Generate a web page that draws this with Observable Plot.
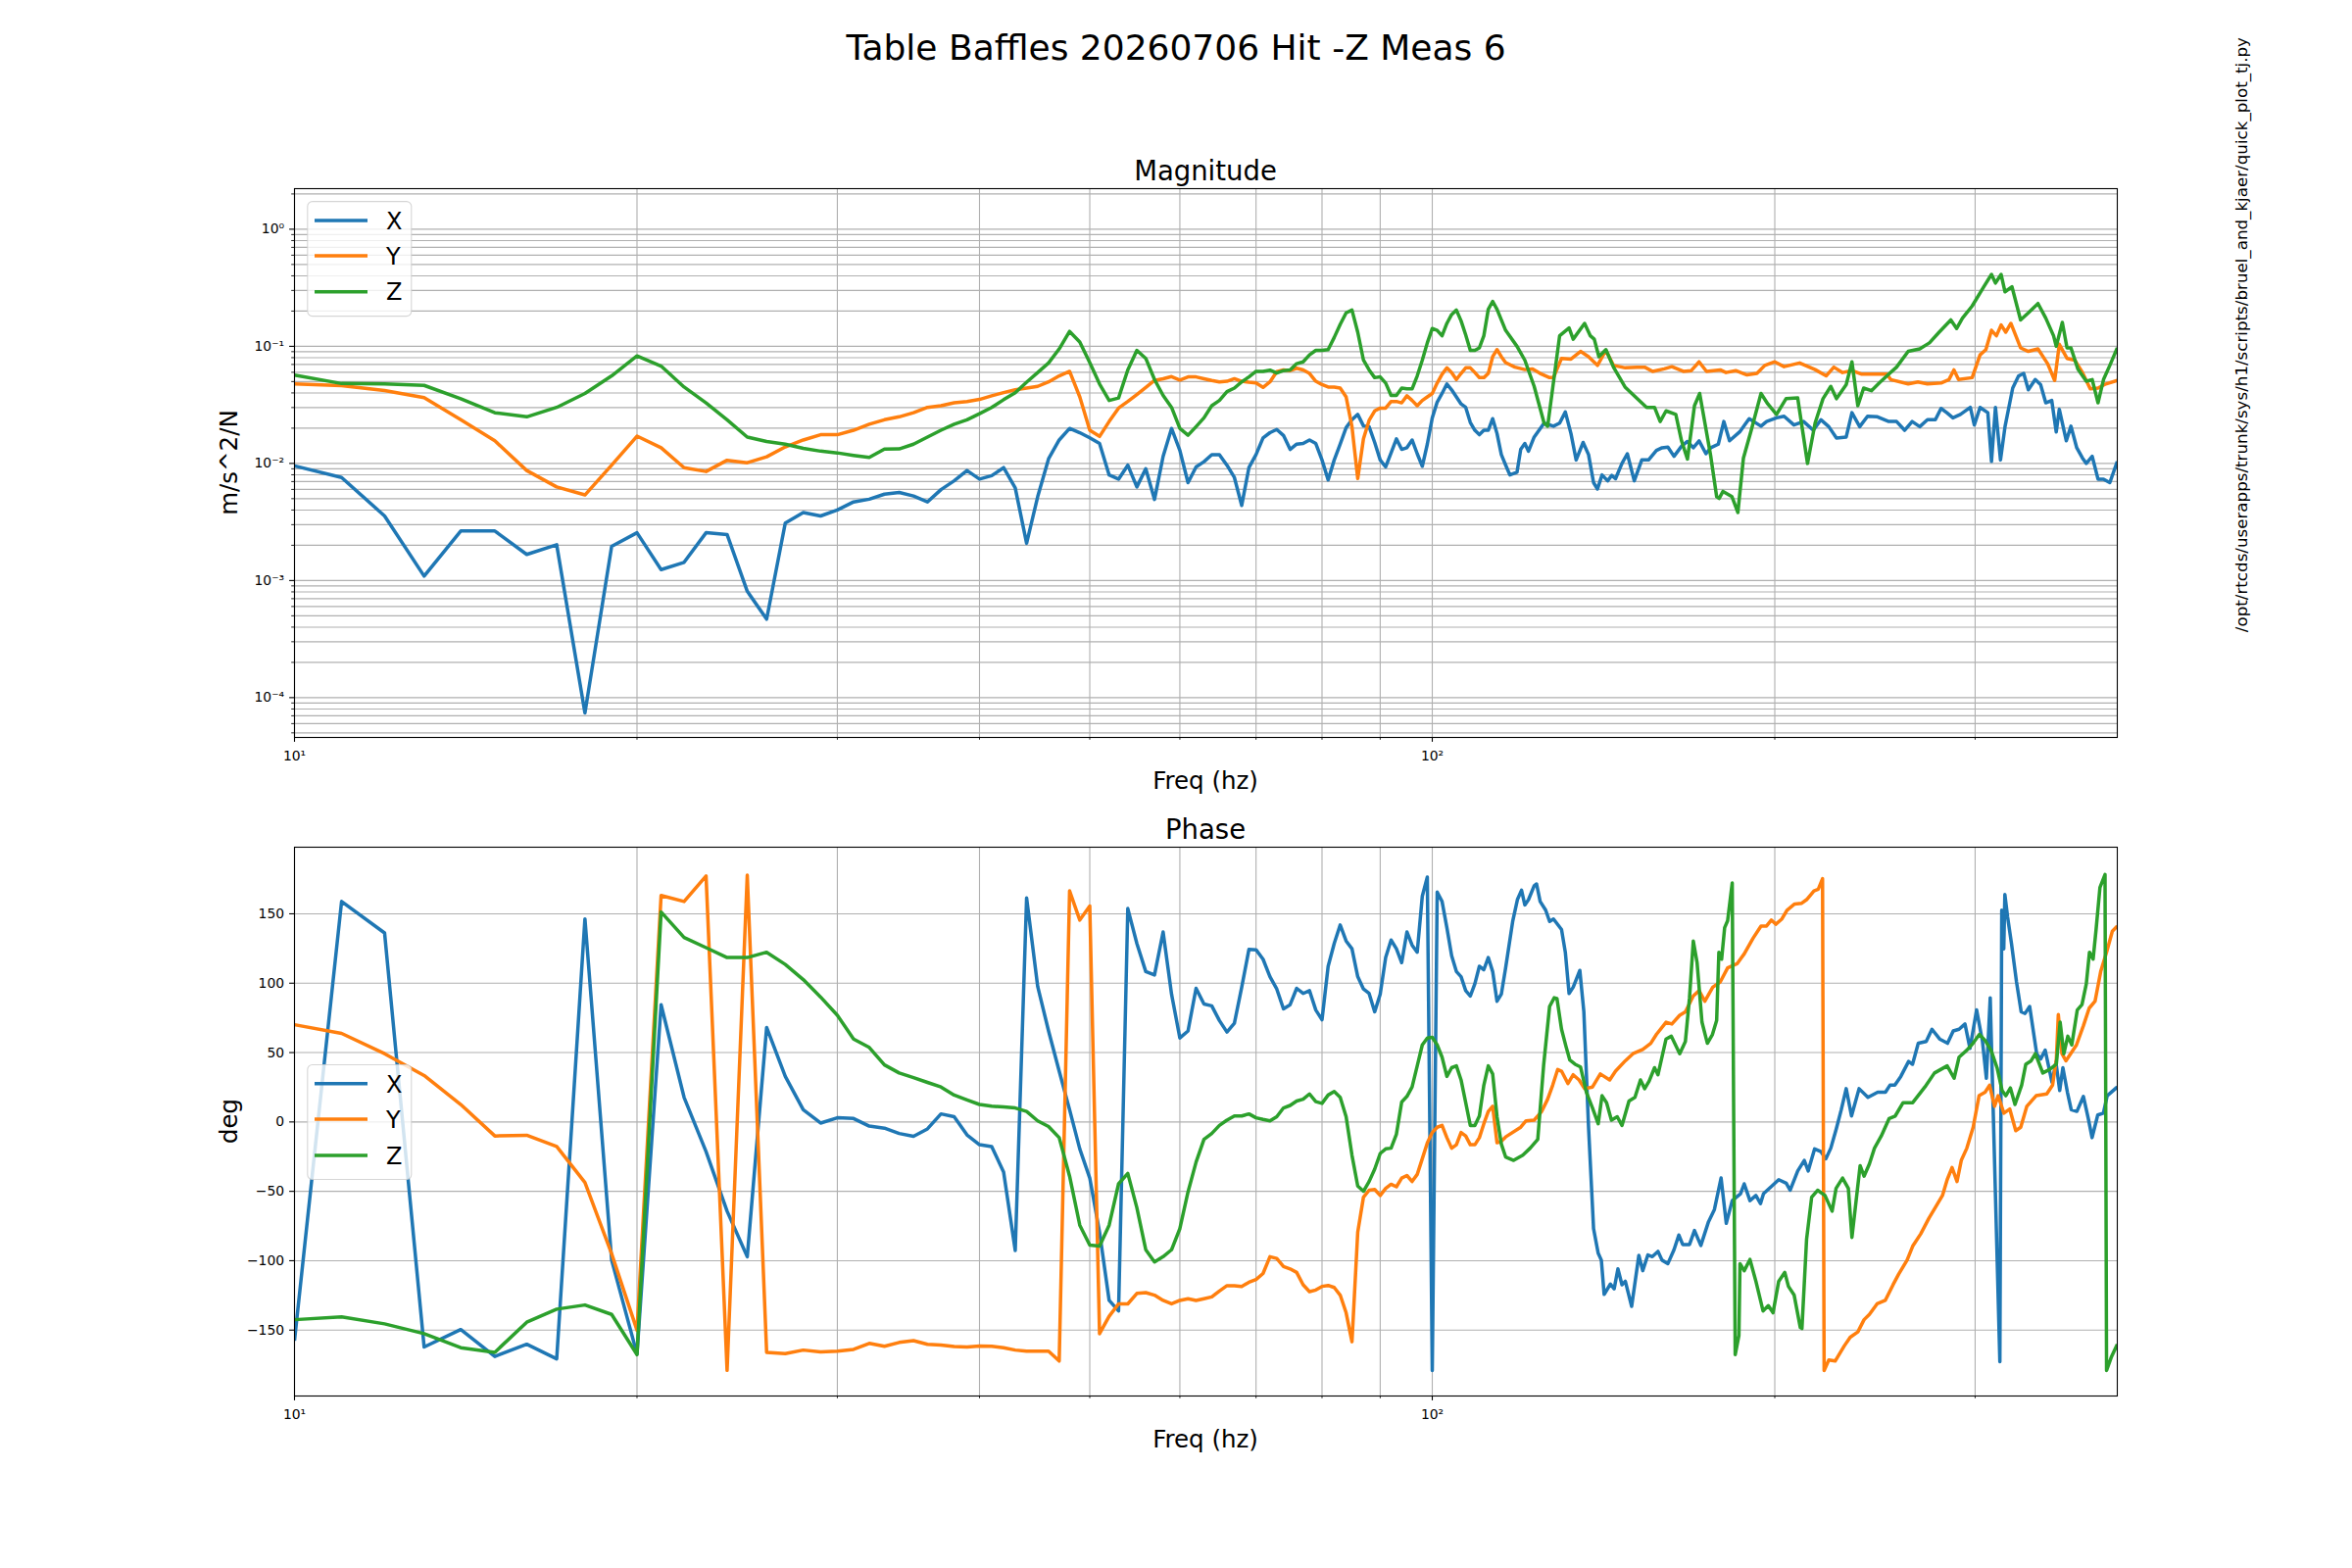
<!DOCTYPE html>
<html><head><meta charset="utf-8">
<script src="https://cdn.jsdelivr.net/npm/d3@7"></script>
<script src="https://cdn.jsdelivr.net/npm/@observablehq/plot@0.6"></script>
<style>
html,body{margin:0;padding:0;background:#fff;}
#fig{position:relative;width:2400px;height:1600px;background:#fff;overflow:hidden;font-family:"DejaVu Sans",sans-serif;color:#000;}
</style></head><body><div id="fig"></div>
<script>
// ---------- labels ----------
const figTitle = "Table Baffles 20260706 Hit -Z Meas 6";
const magTitle = "Magnitude";
const phaseTitle = "Phase";
const xLabel = "Freq (hz)";
const magYLabel = "m/s^2/N";
const phaseYLabel = "deg";
const sideText = "/opt/rtcds/userapps/trunk/sys/h1/scripts/bruel_and_kjaer/quick_plot_tj.py";
const seriesNames = ["X", "Y", "Z"];
const seriesColors = ["#1f77b4", "#ff7f0e", "#2ca02c"];

// ---------- ticks ----------
const freqMajor = [10, 100];
const freqTickLabels = ["10\u00b9", "10\u00b2"];
const freqMinor = [20, 30, 40, 50, 60, 70, 80, 90, 200, 300];
const magMajor = [1e-4, 1e-3, 1e-2, 1e-1, 1];
const magTickLabels = ["10\u207b\u2074", "10\u207b\u00b3", "10\u207b\u00b2", "10\u207b\u00b9", "10\u2070"];
const phaseTicks = [-150, -100, -50, 0, 50, 100, 150];
const phaseTickLabels = ["\u2212150", "\u2212100", "\u221250", "0", "50", "100", "150"];

// ---------- data: magnitude [freq Hz, m/s^2/N] ----------
const magX = [[10,0.00953],[11,0.00759],[12,0.00356],[13,0.00109],[14,0.00265],[15,0.00265],[16,0.00167],[17,0.00202],[18,0.000074],[19,0.00196],[20,0.00256],[21,0.00124],[22,0.00143],[23,0.00256],[24,0.00247],[25,0.00081],[26,0.000468],[27,0.0031],[28,0.00381],[29,0.00356],[30,0.0040],[31,0.00469],[32,0.00495],[33,0.00546],[34,0.00565],[35,0.00527],[36,0.00469],[37,0.00597],[38,0.0071],[39,0.0087],[40,0.00734],[41,0.00786],[42,0.0092],[43,0.00618],[44,0.00208],[45,0.0052],[46,0.01094],[47,0.01585],[48,0.0199],[49,0.0183],[50,0.01653],[51,0.0148],[52,0.00797],[53,0.00734],[54,0.00966],[55,0.0063],[56,0.00902],[57,0.00492],[58,0.01148],[59,0.0199],[60,0.0129],[61,0.00685],[62,0.00933],[63,0.01035],[64,0.01188],[65,0.01188],[66,0.00966],[67,0.00759],[68,0.00438],[69,0.0092],[70,0.01188],[71,0.01653],[72,0.0183],[73,0.0195],[74,0.01734],[75,0.01318],[76,0.0146],[77,0.0148],[78,0.01585],[79,0.0148],[80,0.0107],[81,0.00724],[82,0.0107],[83,0.0146],[84,0.0202],[85,0.0236],[86,0.0262],[87,0.0209],[88,0.0206],[89,0.0151],[90,0.0107],[91,0.00933],[92,0.0123],[93,0.0162],[94,0.01318],[95,0.01363],[96,0.01585],[97,0.0121],[98,0.00946],[99,0.0146],[100,0.0245],[101,0.0334],[102,0.0396],[103,0.0477],[104,0.0425],[105,0.037],[106,0.0322],[107,0.0301],[108,0.0224],[109,0.0192],[110,0.0176],[111,0.0192],[112,0.0192],[113,0.0241],[114,0.0180],[115,0.0119],[116,0.0097],[117,0.00797],[118.7,0.0084],[119.6,0.0132],[120.6,0.0148],[121.5,0.0127],[122.9,0.0168],[125.4,0.0221],[127.8,0.0208],[129.4,0.0221],[130.9,0.0275],[132.4,0.018],[133.8,0.0107],[135.7,0.0151],[137.2,0.0119],[138.6,0.00685],[139.7,0.00605],[141,0.00797],[142.6,0.0071],[143.8,0.0079],[144.9,0.0074],[146.8,0.0100],[148.4,0.0121],[150.5,0.0071],[152.8,0.0107],[154.9,0.0107],[157.4,0.0129],[159.2,0.0136],[161.1,0.0138],[163.1,0.0115],[165.6,0.014],[167.6,0.0154],[169.6,0.0136],[171.6,0.0156],[174,0.0121],[175.7,0.0136],[178.4,0.0146],[180.4,0.0228],[182.5,0.0156],[186.3,0.0186],[189.9,0.0241],[194.5,0.0208],[196.7,0.0228],[200.7,0.0245],[203.8,0.0253],[207.9,0.0213],[212,0.0228],[216.2,0.0192],[219.6,0.0236],[223.1,0.0206],[226.6,0.0165],[231.1,0.0168],[233.8,0.0271],[237.5,0.0206],[241.3,0.0253],[246.2,0.0250],[251.9,0.0228],[255.9,0.0228],[260.1,0.0192],[264.1,0.0228],[268.2,0.0206],[272.4,0.0236],[276.8,0.0236],[280,0.0295],[283.3,0.0271],[286.8,0.0245],[291.2,0.0262],[297.1,0.0301],[299.5,0.0213],[303,0.0301],[307.8,0.0271],[310.1,0.0104],[312.6,0.0301],[315.8,0.0107],[318.7,0.0206],[323.7,0.044],[327.6,0.0559],[331,0.0587],[334.1,0.0425],[338.8,0.052],[342.5,0.0471],[346.1,0.0329],[350.3,0.0345],[353.5,0.0186],[355.7,0.029],[360.8,0.0156],[364.2,0.0208],[368.5,0.0136],[372.8,0.0111],[375.7,0.0100],[380.2,0.0115],[384.7,0.00734],[389,0.00734],[394,0.00685],[400,0.0104]];

const magY = [[10,0.0477],[11,0.0461],[12,0.0419],[13,0.0365],[14,0.0236],[15,0.0156],[16,0.0087],[17,0.0063],[18,0.00538],[19,0.00966],[20,0.0171],[21,0.0136],[22,0.0092],[23,0.00853],[24,0.01064],[25,0.01014],[26,0.0114],[27,0.01383],[28,0.01585],[29,0.01758],[30,0.01758],[31,0.0192],[32,0.0216],[33,0.0236],[34,0.0250],[35,0.0271],[36,0.0301],[37,0.0311],[38,0.0329],[39,0.0338],[40,0.0352],[41,0.0378],[42,0.0402],[43,0.0425],[44,0.0440],[45,0.0455],[46,0.0497],[47,0.0559],[48,0.0611],[49,0.037],[50,0.0192],[51,0.0170],[52,0.0228],[53,0.0297],[54,0.0338],[55,0.0388],[56,0.0446],[57,0.0511],[58,0.0529],[59,0.0551],[60,0.0515],[61,0.0548],[62,0.0548],[63,0.0529],[64,0.0511],[65,0.0497],[66,0.0503],[67,0.0529],[68,0.0503],[69,0.0493],[70,0.0486],[71,0.0446],[72,0.0497],[73,0.0607],[74,0.0629],[75,0.0620],[76,0.0650],[77,0.0629],[78,0.0587],[79,0.0503],[80,0.0471],[81,0.0449],[82,0.0449],[83,0.044],[84,0.037],[85,0.0206],[86,0.00743],[87,0.0162],[88,0.0233],[89,0.0281],[90,0.0297],[91,0.0297],[92,0.0338],[93,0.0338],[94,0.0329],[95,0.0378],[96,0.0345],[97,0.0311],[98,0.0345],[99,0.037],[100,0.0396],[101,0.0486],[102,0.0578],[103,0.0655],[104,0.0597],[105,0.0521],[106,0.0587],[107,0.0655],[108,0.0655],[109,0.0597],[110,0.054],[111,0.054],[112,0.0587],[113,0.0816],[114,0.0937],[115,0.0816],[116,0.0726],[118.2,0.0664],[120.6,0.0633],[122.5,0.0642],[124.4,0.0587],[126.8,0.054],[127.8,0.054],[129.9,0.0789],[132.4,0.0778],[135,0.0905],[137.2,0.0816],[139.7,0.0687],[142.1,0.0924],[144.3,0.0687],[147.8,0.0655],[151.4,0.0664],[153.7,0.0664],[156.2,0.0611],[159.9,0.0642],[162.4,0.067],[166.2,0.0611],[168.9,0.062],[171.6,0.0737],[174.2,0.0611],[179.1,0.0629],[181.2,0.0597],[184.8,0.062],[189.1,0.057],[192.9,0.0587],[196,0.0687],[200,0.0737],[203.8,0.067],[210.3,0.0721],[217,0.0633],[221.9,0.0559],[225.4,0.0664],[229.4,0.0597],[233.8,0.062],[238.5,0.0578],[244.1,0.0578],[250.9,0.0578],[252.9,0.052],[262,0.0477],[267.2,0.0497],[272.4,0.0477],[280,0.0486],[284.5,0.052],[287.4,0.0629],[290.1,0.052],[298.2,0.054],[303,0.0845],[306.6,0.0937],[310.1,0.137],[313.2,0.123],[316.2,0.152],[319.2,0.132],[322.5,0.157],[328.9,0.097],[334.1,0.0905],[340.7,0.095],[347.4,0.0711],[352.4,0.0511],[355.7,0.104],[361.3,0.0789],[367,0.0762],[372.8,0.0597],[378.7,0.0433],[384.7,0.044],[390.8,0.0477],[400,0.0511]];

const magZ = [[10,0.0567],[11,0.0481],[12,0.0477],[13,0.0464],[14,0.0357],[15,0.0271],[16,0.0250],[17,0.0301],[18,0.0396],[19,0.0559],[20,0.0828],[21,0.0678],[22,0.0449],[23,0.0329],[24,0.0236],[25,0.0168],[26,0.0154],[27,0.0146],[28,0.01344],[29,0.01273],[30,0.0123],[31,0.01172],[32,0.01125],[33,0.01327],[34,0.0133],[35,0.0146],[36,0.0168],[37,0.0192],[38,0.0216],[39,0.0236],[40,0.0266],[41,0.0301],[42,0.035],[43,0.0402],[44,0.0494],[45,0.0597],[46,0.0721],[47,0.095],[48,0.134],[49,0.109],[50,0.0726],[51,0.0477],[52,0.0345],[53,0.0362],[54,0.0629],[55,0.0924],[56,0.0789],[57,0.0521],[58,0.0381],[59,0.0301],[60,0.0199],[61,0.0174],[62,0.0206],[63,0.0245],[64,0.0311],[65,0.0345],[66,0.041],[67,0.044],[68,0.0497],[69,0.0548],[70,0.0611],[71,0.0611],[72,0.0626],[73,0.0591],[74,0.062],[75,0.0629],[76,0.0711],[77,0.0737],[78,0.0845],[79,0.0924],[80,0.0924],[81,0.0937],[82,0.119],[83,0.154],[84,0.193],[85,0.204],[86,0.132],[87,0.0762],[88,0.0629],[89,0.054],[90,0.0548],[91,0.0486],[92,0.0381],[93,0.0381],[94,0.044],[95,0.0433],[96,0.0433],[97,0.0559],[98,0.0762],[99,0.107],[100,0.142],[101,0.137],[102,0.123],[103,0.157],[104,0.187],[105,0.204],[106,0.165],[107,0.125],[108,0.0924],[109,0.0924],[110,0.097],[111,0.123],[112,0.207],[113,0.242],[114,0.207],[115,0.168],[116,0.137],[118.7,0.100],[120.6,0.0762],[122.9,0.0455],[125.4,0.0221],[126.3,0.0208],[129.4,0.123],[131.9,0.1435],[133,0.115],[136.1,0.157],[137.7,0.123],[138.8,0.115],[140.1,0.0816],[142.1,0.0937],[144.3,0.0664],[147.8,0.0446],[151.4,0.0357],[154.3,0.0301],[156.8,0.0301],[158.6,0.0228],[160.5,0.0281],[163.7,0.0262],[165.6,0.0156],[167.6,0.0109],[170,0.0311],[171.8,0.0396],[175.7,0.0115],[177.8,0.0052],[178.7,0.00503],[180.1,0.00577],[183.4,0.0052],[185.6,0.00381],[187.7,0.0111],[190.7,0.0192],[194.5,0.0396],[197.2,0.0322],[200.7,0.0262],[204.6,0.0357],[209.5,0.0362],[213.7,0.010],[217,0.0221],[220.5,0.0357],[224,0.0455],[226.6,0.0357],[231.1,0.0471],[233.8,0.0737],[236.6,0.0311],[239.4,0.044],[243.2,0.0418],[247.1,0.0486],[251.9,0.0578],[255.9,0.0664],[262,0.0905],[268.2,0.095],[273.5,0.107],[278.9,0.132],[285.6,0.168],[289,0.142],[292.4,0.174],[298.2,0.221],[305.3,0.323],[310.1,0.411],[312.6,0.347],[316.2,0.411],[318.7,0.292],[323.2,0.323],[328.9,0.168],[334.1,0.193],[340.7,0.232],[346.1,0.174],[351.6,0.123],[353.5,0.1],[357.9,0.160],[361.3,0.097],[364.2,0.097],[369.3,0.0642],[375.7,0.0504],[380.2,0.052],[384.7,0.0329],[389,0.052],[394,0.0687],[400,0.097]];

// ---------- data: phase [freq Hz, deg] ----------
const phX = [[10,-157.6],[11,158.9],[12,136.2],[13,-162.2],[14,-149.6],[15,-169],[16,-160.2],[17,-170.7],[18,146.3],[19,-99.6],[20,-167.2],[21,84.5],[22,17.7],[23,-21.4],[24,-64.3],[25,-97.1],[26,68.1],[27,32.8],[28,8.8],[29,-0.8],[30,3.0],[31,2.5],[32,-3.0],[33,-4.5],[34,-8.3],[35,-10.3],[36,-5],[37,5.8],[38,3.8],[39,-9.3],[40,-16.4],[41,-17.7],[42,-36.1],[43,-92.6],[44,161.4],[45,97.6],[46,65.6],[47,36.6],[48,8.8],[49,-19.4],[50,-40.4],[51,-79.4],[52,-128.6],[53,-136.2],[54,153.8],[55,128.6],[56,108.4],[57,105.9],[58,136.9],[59,92.1],[60,60.5],[61,65.6],[62,96.3],[63,85],[64,83.7],[65,73.1],[66,64.8],[67,71.1],[68,97.1],[69,124.3],[70,124.1],[71,117.3],[72,104.7],[73,95.8],[74,81.5],[75,84.5],[76,96.3],[77,92.6],[78,94.6],[79,80.7],[80,73.6],[81,112.2],[82,128.6],[83,142],[84,130.4],[85,124.8],[86,104.7],[87,95.8],[88,92.6],[89,79.4],[90,92.1],[91,118.5],[92,131.1],[93,124.8],[94,114.8],[95,136.9],[96,127.4],[97,122.3],[98,162.7],[99,176.5],[100,-179.1],[101,165.7],[102,158.9],[103,140],[104,119.8],[105,108.4],[106,104.7],[107,94.6],[108,90.8],[109,99.6],[110,112.2],[111,109.7],[112,118.5],[113,108.4],[114,87],[115,92.1],[116,111],[117.7,145],[118.8,160.2],[119.8,167],[120.6,156.4],[121.5,160.2],[122.9,170.2],[123.5,171.5],[124.4,158.9],[125.8,152.6],[126.8,144.5],[127.8,146.3],[129.9,138.7],[130.9,122.3],[131.9,92.6],[133,97.1],[134.8,109.2],[135.9,79.4],[137.2,-3.8],[138.6,-76.9],[139.9,-94.6],[140.8,-99.6],[141.6,-124.3],[143.4,-116.8],[144.5,-120.3],[145.6,-105.9],[146.8,-117.3],[147.8,-114.8],[149.7,-132.9],[151.9,-96.1],[153.1,-107.2],[154.7,-95.8],[156.1,-97.1],[157.9,-93.3],[159.2,-99.6],[161.1,-102.1],[163.1,-92.1],[164.7,-81.5],[166,-88.3],[168.3,-88.3],[170,-78.2],[172.2,-89],[174.9,-71.9],[177,-63.1],[179.4,-40.4],[181.3,-73.1],[183.5,-56.7],[186.6,-51.7],[188,-44.6],[190.2,-56.7],[192.5,-53],[194.3,-58.8],[195.5,-51.7],[198.5,-46.7],[201.6,-41.6],[204.7,-44.1],[206.3,-49.2],[209.5,-35.3],[212.3,-27.7],[214,-35.3],[216.8,-19.4],[219.6,-21.4],[221.8,-26.5],[224,-18.9],[226.5,-5],[228.8,8.8],[231.1,24],[233.6,4.3],[237.2,24],[241.5,17.7],[246.3,21.4],[250.2,21.4],[252.5,26.5],[255,26.5],[258.1,32.8],[262.2,43.6],[264.3,41.6],[267.4,56.7],[271.7,58],[274.9,66.8],[279.2,59.8],[283.7,56.7],[287,65.6],[290.4,66.8],[293.9,70.6],[296.9,53],[300.9,80.7],[304.5,58],[306.9,31.5],[309.3,89.5],[315.4,-172.8],[316.6,152.6],[317.9,124.8],[318.6,163.9],[320.4,147.5],[322.9,128.6],[326.2,100.9],[329.3,79.4],[331.9,78.2],[335,83.2],[339.8,49.2],[342.5,45.4],[345.7,51.7],[350.5,28.5],[353.3,42.9],[356,22.7],[358.3,39.1],[361.6,21.4],[364.4,8.8],[368.6,7.6],[373.5,18.4],[377.2,2.5],[380.1,-11.3],[384.5,5],[388.9,6.3],[391.9,18.9],[400,25.2]];

const phY = [[10,70.1],[11,63.8],[12,49.2],[13,33.5],[14,12.6],[15,-10.1],[16,-9.6],[17,-17.7],[18,-43.6],[19,-95],[20,-150.1],[21,163.2],[22,158.9],[23,177.3],[24,-179],[25,177.8],[26,-166],[27,-167],[28,-164.4],[29,-165.7],[30,-165.2],[31,-163.9],[32,-159.6],[33,-161.7],[34,-158.9],[35,-157.6],[36,-160.2],[37,-160.7],[38,-161.9],[39,-162.2],[40,-161.4],[41,-161.7],[42,-162.7],[43,-164.4],[44,-165.2],[45,-165.2],[46,-165.2],[47,-172.3],[48,166.5],[49,145.5],[50,155.6],[51,-152.6],[52,-140],[53,-131.1],[54,-131.1],[55,-123.6],[56,-123],[57,-124.8],[58,-128.6],[59,-131.1],[60,-128.6],[61,-127.4],[62,-128.6],[63,-127.4],[64,-126.1],[65,-121.8],[66,-118],[67,-118],[68,-118.5],[69,-115.5],[70,-113.5],[71,-109.2],[72,-97.1],[73,-98.4],[74,-104.2],[75,-105.9],[76,-108.4],[77,-117.3],[78,-122.3],[79,-121.1],[80,-118.5],[81,-117.8],[82,-119.3],[83,-124.8],[84,-137.5],[85,-158.4],[86,-79.4],[87,-54.2],[88,-49.2],[89,-48.7],[90,-53],[91,-47.9],[92,-44.9],[93,-46.7],[94,-40.4],[95,-38.6],[96,-42.9],[97,-37.8],[98,-26.5],[99,-15.1],[100,-7.6],[101,-3.8],[102,-2.5],[103,-11.3],[104,-18.9],[105,-16.4],[106,-7.6],[107,-10.1],[108,-16.4],[109,-16.4],[110,-11.3],[111,-1.3],[112,7.6],[113,11.3],[114,-15],[115,-13.9],[116,-10.8],[119.6,-3.8],[120.9,0.8],[122.9,1.3],[124.8,7.6],[126.3,16.4],[127.6,26.5],[128.9,37.8],[129.9,36.6],[131.6,27.7],[133,34],[134.6,30.3],[136.1,24],[138.3,25.2],[140.5,34.6],[143.2,30.3],[144.9,36.6],[147.8,44.1],[150.1,49.2],[153.1,52.2],[155.6,56.7],[157.4,63.1],[160.5,71.9],[162.4,70.6],[165,76.9],[166.9,79.4],[169.6,90.8],[171.6,94.6],[173.6,87],[176.4,97.1],[179.1,100.9],[181.8,111],[185.3,114],[188,121.1],[191.4,132.4],[194.5,141.2],[196.7,141.2],[198.6,145.5],[200.4,142.5],[202.9,146.3],[205,152.6],[208.2,157.1],[211.2,157.6],[213.3,160.2],[216.5,166.5],[218.4,167.7],[220.3,175.3],[221,-179.1],[223.1,-171.5],[226,-172.3],[230.2,-161.4],[233,-155.1],[236.6,-151.3],[239.6,-142.5],[242.2,-138.7],[246,-131.1],[250.1,-128.6],[254.1,-117.3],[257,-109.7],[261.4,-99.6],[264.4,-89.5],[268.7,-80.7],[273.2,-69.4],[276.7,-61.8],[280.8,-53],[283.5,-41.6],[286.3,-32.8],[289.2,-42.9],[291.7,-27.7],[295,-18.9],[298.8,-3.8],[302.4,18.9],[306.1,21.4],[308.9,26.5],[312,11.3],[314.3,18.9],[318,6.3],[321.8,9.3],[325.7,-6.3],[329,-3.8],[333.1,11.3],[339.4,18.9],[346.8,20.2],[350.9,26.5],[353.6,45.4],[355,77.4],[357.6,49.2],[360.5,44.1],[364.8,50.4],[368.3,55.5],[373.5,69.4],[377.9,82],[382.4,87],[386.8,108.4],[391.4,122.3],[396,137.5],[400,141.2]];

const phZ = [[10,-142.5],[11,-140.5],[12,-145.5],[13,-152.6],[14,-162.7],[15,-166],[16,-144.3],[17,-134.9],[18,-131.9],[19,-138.7],[20,-167.7],[21,151.3],[22,132.9],[23,125.6],[24,118.5],[25,118.5],[26,122.3],[27,113.5],[28,102.6],[29,90],[30,76.9],[31,59.8],[32,53.7],[33,41.1],[34,35.3],[35,32],[36,28.5],[37,25.2],[38,19.4],[39,15.9],[40,12.6],[41,11.3],[42,10.8],[43,10.1],[44,7.6],[45,0.8],[46,-3.3],[47,-11.3],[48,-39.1],[49,-74.4],[50,-88.8],[51,-89.5],[52,-74.4],[53,-44.6],[54,-37.1],[55,-61.8],[56,-92.1],[57,-100.9],[58,-97.1],[59,-92.1],[60,-76.9],[61,-50.4],[62,-29],[63,-12.6],[64,-8.3],[65,-2.5],[66,1.3],[67,4.3],[68,4.3],[69,5.8],[70,3],[71,1.8],[72,0.8],[73,3.8],[74,10.1],[75,11.9],[76,15.1],[77,16.4],[78,20.2],[79,14.6],[80,13.4],[81,19.4],[82,21.9],[83,17.7],[84,3.8],[85,-24],[86,-46.2],[87,-49.9],[88,-42.9],[89,-34],[90,-22.7],[91,-19.4],[92,-18.9],[93,-8.8],[94,14.4],[95,18.4],[96,25.2],[97,40.4],[98,55.5],[99,60.5],[100,61],[101,55.5],[102,46.7],[103,32.8],[104,39.1],[105,40.4],[106,30.3],[107,13.9],[108,-2.5],[109,-2.5],[110,4.3],[111,26.5],[112,40.4],[113,34.6],[114,3.8],[115,-15.9],[116,-25.2],[117.9,-27.7],[120.1,-24],[121.9,-18.9],[123.8,-12.6],[125.3,41.6],[126.8,83.2],[128,89.5],[128.7,89],[129.9,66.8],[131.1,54.2],[132.1,44.6],[133.5,41.6],[135,39.6],[136.6,21.4],[138.3,10.1],[139.9,-1.3],[141,18.9],[142.3,13.9],[143.7,1.3],[145.4,3.8],[146.8,-2.5],[148.9,15.1],[150.7,17.7],[152.4,30.3],[153.7,24],[155.1,29.5],[156.8,39.1],[157.9,34],[160.5,59.8],[162.2,61.8],[165,49.2],[166.9,58],[168.3,89.5],[169.6,130.4],[170.9,114.8],[172.6,71.9],[174.5,56.7],[176.3,63.1],[177.8,73.1],[178.6,122.3],[179.6,117.3],[180.7,140],[181.8,145],[183.5,172.3],[184.6,-167.7],[186,-153.8],[186.4,-102.1],[188,-107.2],[190.2,-99.1],[192.5,-114.8],[195.3,-136.2],[197.4,-132.4],[199.3,-137.5],[201.6,-114.8],[204.1,-108.4],[205.6,-118.5],[208,-124.8],[210.6,-148.1],[211.3,-148.8],[213.3,-84.5],[215.5,-54.2],[218.1,-49.2],[221.4,-53],[224.6,-64.3],[226.4,-47.9],[229.4,-40.4],[232.1,-47.9],[233.8,-83.2],[237.7,-31.5],[239.6,-39.1],[242.2,-30.3],[244.7,-18.9],[248.1,-10.1],[252.1,2.5],[255.2,4.3],[259.3,13.9],[264.4,13.9],[271,25.2],[276.3,35.3],[283.5,40.4],[287.5,31.5],[290.4,46.7],[295,51.7],[298.7,56.7],[302.6,63.1],[306.1,58.8],[309.8,51.7],[313.6,39.1],[316.8,22.7],[319.2,18.9],[322.2,24.5],[325.2,12.6],[329.6,26.5],[332.4,41.6],[336,44.1],[338.9,49.2],[344,35.3],[348.7,37.8],[353.6,41.6],[356.3,71.9],[359,49.2],[361.9,61.8],[364.8,55.5],[368.9,80.7],[372.4,84.5],[375.7,99.6],[378.1,122.3],[380.9,117.3],[383.2,138.7],[386.2,169],[390.2,178.3],[391.4,-179.1],[395.4,-169],[400,-160.2]];

// ---------- build ----------
const fig = document.getElementById("fig");
const tidy = (list) => list.flatMap((arr, i) => arr.map(([f, v]) => ({f, v, s: seriesNames[i]})));
const magData = tidy([magX, magY, magZ]);
const phaseData = tidy([phX, phY, phZ]);

const LW = 3.5;
const freqDomain = [10, 400];
const magDomain = [Math.pow(10, -4.34), Math.pow(10, 0.3464)];
const phaseDomain = [-197.5, 198];
const magMinor = [];
for (let k = -5; k <= 0; k++) for (let m = 2; m <= 9; m++) {
  const v = m * Math.pow(10, k);
  if (v > magDomain[0] && v < magDomain[1]) magMinor.push(v);
}
const GRID = "#b0b0b0";
const common = {
  width: 2400, height: 638, marginLeft: 300, marginRight: 240, marginTop: 10, marginBottom: 68,
  style: {fontFamily: "DejaVu Sans", fontSize: "13.9px", background: "transparent", overflow: "visible", color: "#000"},
  color: {domain: seriesNames, range: seriesColors}
};
const lineOpts = {x: "f", y: "v", z: "s", stroke: "s", strokeWidth: LW, strokeLinejoin: "round", strokeLinecap: "butt", clip: true};
const xAxes = [
  Plot.axisX(freqMajor, {anchor: "bottom", tickSize: 4.9, tickPadding: 9, strokeWidth: 1.1, label: null,
    tickFormat: (d) => freqTickLabels[freqMajor.indexOf(d)]}),
  Plot.axisX(freqMinor, {anchor: "bottom", tickSize: 2.8, strokeWidth: 0.85, label: null, tickFormat: () => ""})
];

const magPlot = Plot.plot({
  ...common,
  x: {type: "log", domain: freqDomain},
  y: {type: "log", domain: magDomain},
  marks: [
    Plot.ruleX(freqMajor.concat(freqMinor), {stroke: GRID, strokeWidth: 1.1}),
    Plot.ruleY(magMajor.concat(magMinor), {stroke: GRID, strokeWidth: 1.1}),
    Plot.line(magData, lineOpts),
    Plot.frame({stroke: "#000", strokeWidth: 1.1}),
    ...xAxes,
    Plot.axisY(magMajor, {anchor: "left", tickSize: 4.9, tickPadding: 5.5, strokeWidth: 1.1, label: null,
      tickFormat: (d) => magTickLabels[magMajor.indexOf(d)]}),
    Plot.axisY(magMinor, {anchor: "left", tickSize: 2.8, strokeWidth: 0.85, label: null, tickFormat: () => ""})
  ]
});

const phasePlot = Plot.plot({
  ...common,
  x: {type: "log", domain: freqDomain},
  y: {type: "linear", domain: phaseDomain},
  marks: [
    Plot.ruleX(freqMajor.concat(freqMinor), {stroke: GRID, strokeWidth: 1.1}),
    Plot.ruleY(phaseTicks, {stroke: GRID, strokeWidth: 1.1}),
    Plot.line(phaseData, lineOpts),
    Plot.frame({stroke: "#000", strokeWidth: 1.1}),
    ...xAxes,
    Plot.axisY(phaseTicks, {anchor: "left", tickSize: 4.9, tickPadding: 5.5, strokeWidth: 1.1, label: null,
      tickFormat: (d) => phaseTickLabels[phaseTicks.indexOf(d)]})
  ]
});

for (const [node, top] of [[magPlot, 182], [phasePlot, 854]]) {
  node.style.position = "absolute";
  node.style.left = "0px";
  node.style.top = top + "px";
  fig.appendChild(node);
}

// ---------- text & legends overlay ----------
const ov = d3.create("svg").attr("width", 2400).attr("height", 1600)
  .attr("viewBox", "0 0 2400 1600")
  .style("position", "absolute").style("left", "0px").style("top", "0px")
  .style("font-family", "DejaVu Sans, sans-serif");
function txt(x, y, s, size, anchor = "middle", rot = 0) {
  return ov.append("text").attr("x", 0).attr("y", 0)
    .attr("transform", `translate(${x},${y})` + (rot ? ` rotate(${rot})` : ""))
    .attr("text-anchor", anchor).attr("font-size", size).attr("fill", "#000").text(s);
}
txt(1200, 61, figTitle, 36);
txt(1230, 183.7, magTitle, 27.5);
txt(1230, 855.7, phaseTitle, 27.5);
txt(1230, 805, xLabel, 24.5);
txt(1230, 1477, xLabel, 24.5);
txt(241.5, 472, magYLabel, 24.5, "middle", -90);
txt(241.5, 1144, phaseYLabel, 24.5, "middle", -90);
txt(2293, 38, sideText, 16.7, "end", -90);

function legend(boxTop, rows) {
  ov.append("rect").attr("x", 313.8).attr("y", boxTop).attr("width", 106).attr("height", 117)
    .attr("rx", 5).attr("fill", "#fff").attr("fill-opacity", 0.8)
    .attr("stroke", "#cccccc").attr("stroke-opacity", 0.8).attr("stroke-width", 1.1);
  seriesNames.forEach((n, i) => {
    const y = boxTop + rows[i];
    ov.append("line").attr("x1", 321).attr("x2", 375).attr("y1", y).attr("y2", y)
      .attr("stroke", seriesColors[i]).attr("stroke-width", LW);
    ov.append("text").attr("x", 394).attr("y", y + 8.75).attr("font-size", 24).attr("fill", "#000").text(n);
  });
}
legend(205.6, [19.3, 55.4, 92.1]);
legend(1086.5, [19.3, 55.4, 92.5]);
fig.appendChild(ov.node());
</script>
</body></html>
